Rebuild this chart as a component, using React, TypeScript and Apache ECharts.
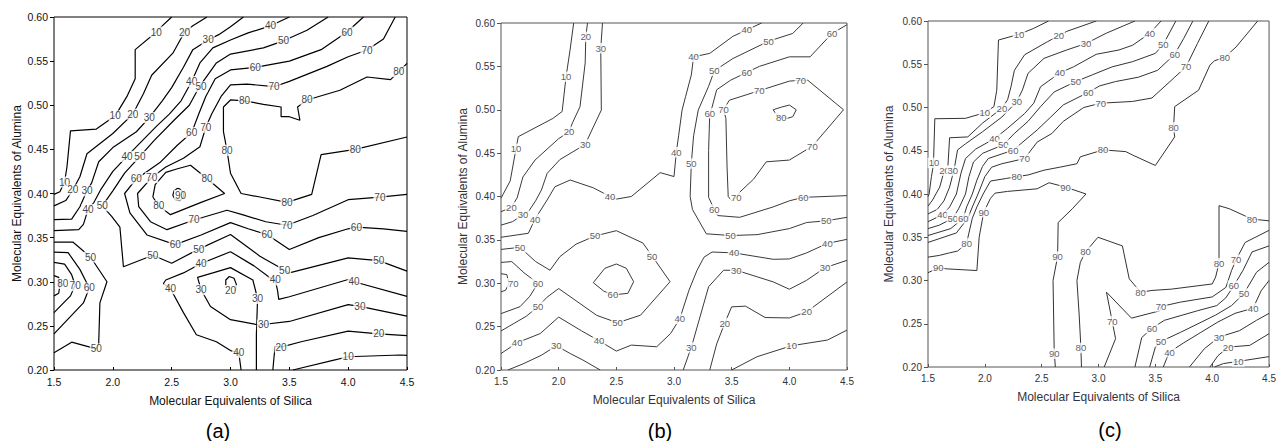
import React, { useEffect, useRef } from "react";
import * as echarts from "echarts";

type Pt = number[];

// Axis ranges / tick spacing (shared by all three panels)
const xRange = [1.5, 4.5];
const xStep = 0.5;
const yRange = [0.2, 0.6];
const yStep = 0.05;
const xTitle = "Molecular Equivalents of Silica";
const yTitle = "Molecular Equivalents of Alumina";
const panelNames = ["(a)", "(b)", "(c)"];

// ---------------- Panel (a) contour lines [silica, alumina] ----------------
const a10: Pt[] = [[2.5,0.6],[2.42,0.59],[2.37,0.583],[2.19,0.563],[2.19,0.53],[2.12,0.51],[2.02,0.488],[1.86,0.473],[1.64,0.471],[1.61,0.43],[1.59,0.413],[1.55,0.402],[1.5,0.399]];
const a20: Pt[] = [[2.8,0.6],[2.68,0.59],[2.61,0.583],[2.51,0.559],[2.33,0.534],[2.26,0.513],[2.17,0.49],[2.0,0.468],[1.78,0.445],[1.72,0.419],[1.66,0.404],[1.6,0.392],[1.5,0.386]];
const a30: Pt[] = [[3.11,0.6],[3.0,0.589],[2.9,0.58],[2.81,0.574],[2.68,0.563],[2.6,0.543],[2.5,0.52],[2.42,0.505],[2.31,0.486],[2.2,0.47],[2.0,0.452],[1.88,0.436],[1.82,0.412],[1.78,0.403],[1.72,0.385],[1.65,0.371],[1.5,0.3705]];
const a40: Pt[] = [[3.5,0.6],[3.34,0.59],[3.15,0.582],[3.0,0.574],[2.85,0.565],[2.74,0.548],[2.67,0.527],[2.58,0.505],[2.48,0.49],[2.37,0.476],[2.23,0.457],[2.12,0.442],[2.0,0.425],[1.9,0.405],[1.84,0.39],[1.79,0.382],[1.75,0.365],[1.71,0.359],[1.5,0.358]];
const a50: Pt[] = [[3.83,0.6],[3.65,0.585],[3.45,0.573],[3.28,0.565],[3.0,0.558],[2.88,0.548],[2.8,0.533],[2.74,0.522],[2.65,0.5],[2.52,0.483],[2.35,0.46],[2.23,0.442],[2.1,0.423],[2.0,0.403],[1.91,0.386],[1.99,0.374],[2.06,0.362],[2.09,0.317],[2.34,0.33],[2.5,0.321],[2.73,0.337],[3.0,0.3535],[3.25,0.329],[3.46,0.313],[3.5,0.31],[4.0,0.327],[4.26,0.324],[4.5,0.312]];
const a60: Pt[] = [[4.13,0.6],[3.99,0.583],[3.77,0.563],[3.5,0.55],[3.21,0.543],[3.0,0.54],[2.87,0.53],[2.79,0.51],[2.73,0.49],[2.67,0.469],[2.55,0.455],[2.4,0.435],[2.2,0.4165],[2.1,0.4],[2.145,0.378],[2.29,0.353],[2.53,0.342],[2.75,0.353],[3.0,0.367],[3.15,0.36],[3.31,0.3535],[3.5,0.3365],[3.75,0.35],[4.0,0.36],[4.07,0.362],[4.3,0.36],[4.5,0.357]];
const a70: Pt[] = [[4.4,0.6],[4.3,0.575],[4.16,0.5626],[4.0,0.555],[3.82,0.544],[3.5,0.527],[3.37,0.521],[3.14,0.524],[3.0,0.523],[2.92,0.51],[2.84,0.49],[2.79,0.475],[2.74,0.453],[2.6,0.44],[2.45,0.43],[2.33,0.418],[2.21,0.4],[2.22,0.385],[2.32,0.368],[2.46,0.359],[2.69,0.37],[2.97,0.381],[3.1,0.376],[3.3,0.368],[3.48,0.364],[3.7,0.375],[4.0,0.393],[4.27,0.396],[4.5,0.399]];
const a80: Pt[] = [[4.5,0.5475],[4.43,0.538],[4.36,0.529],[4.16,0.532],[3.93,0.517],[3.65,0.506],[3.57,0.498],[3.59,0.483],[3.5,0.487],[3.43,0.487],[3.43,0.498],[3.28,0.501],[3.12,0.505],[3.0,0.506],[2.94,0.498],[2.94,0.47],[2.97,0.449],[3.0,0.423],[3.09,0.4],[3.25,0.396],[3.48,0.39],[3.69,0.399],[3.77,0.444],[4.06,0.45],[4.5,0.464]];
const a80Loop: Pt[] = [[2.34,0.396],[2.36,0.41],[2.45,0.424],[2.55,0.428],[2.66,0.432],[2.8,0.417],[2.95,0.4],[2.75,0.39],[2.49,0.376],[2.39,0.386],[2.34,0.396]];
const a90Loop: Pt[] = [[2.55,0.406],[2.52,0.403],[2.51,0.398],[2.53,0.393],[2.57,0.392],[2.6,0.396],[2.6,0.401],[2.57,0.405],[2.55,0.406]];
const a40Low: Pt[] = [[4.5,0.2835],[4.05,0.3],[4.0,0.3025],[3.5,0.283],[3.41,0.28],[3.4,0.29],[3.38,0.302],[3.33,0.305],[3.2,0.318],[3.0,0.334],[2.75,0.3207],[2.6,0.31],[2.45,0.302],[2.43,0.298],[2.49,0.292],[2.6,0.265],[2.71,0.24],[2.88,0.232],[3.0,0.222],[3.07,0.22],[3.09,0.2]];
const a30Low: Pt[] = [[3.22,0.2],[3.22,0.24],[3.23,0.281],[3.19,0.302],[3.0,0.316],[2.85,0.31],[2.72,0.305],[2.75,0.291],[2.83,0.272],[3.0,0.257],[3.24,0.251],[3.5,0.255],[4.0,0.274],[4.1,0.272],[4.5,0.261]];
const a20Loop: Pt[] = [[2.96,0.296],[2.96,0.302],[2.99,0.306],[3.03,0.304],[3.05,0.297],[3.04,0.29]];
const a20Low: Pt[] = [[3.36,0.2],[3.37,0.215],[3.38,0.227],[3.43,0.226],[3.6,0.232],[4.0,0.244],[4.26,0.241],[4.5,0.239]];
const a10Low: Pt[] = [[3.53,0.2],[3.87,0.211],[4.0,0.215],[4.44,0.217],[4.5,0.2165]];
const a80Left: Pt[] = [[1.5,0.307],[1.54,0.305],[1.55,0.296],[1.54,0.287],[1.5,0.284]];
const a70Left: Pt[] = [[1.5,0.322],[1.59,0.32],[1.65,0.308],[1.68,0.296],[1.64,0.284],[1.5,0.265]];
const a60Left: Pt[] = [[1.5,0.3335],[1.62,0.333],[1.72,0.314],[1.8,0.293],[1.75,0.276],[1.5,0.241]];
const a50Left: Pt[] = [[1.5,0.345],[1.66,0.345],[1.81,0.328],[1.95,0.3],[1.89,0.276],[1.88,0.23],[1.86,0.224],[1.65,0.2315],[1.5,0.2195]];

// labels [silica, alumina, level]
const labelsA: Pt[] = [
  [2.37,0.583,10],[2.02,0.488,10],[1.59,0.413,10],
  [2.61,0.583,20],[2.17,0.49,20],[1.66,0.404,20],
  [2.81,0.574,30],[2.31,0.486,30],[1.78,0.403,30],
  [3.34,0.59,40],[2.67,0.527,40],[2.12,0.442,40],[1.79,0.382,40],
  [3.45,0.573,50],[2.75,0.521,50],[2.23,0.442,50],[1.91,0.386,50],[2.34,0.33,50],[2.73,0.337,50],[3.46,0.313,50],[4.26,0.324,50],
  [3.99,0.583,60],[3.21,0.543,60],[2.67,0.469,60],[2.2,0.4165,60],[2.53,0.342,60],[3.31,0.3535,60],[4.07,0.362,60],
  [4.16,0.5626,70],[3.37,0.521,70],[2.79,0.475,70],[2.33,0.418,70],[2.69,0.37,70],[3.48,0.364,70],[4.27,0.396,70],
  [4.43,0.538,80],[3.65,0.506,80],[3.12,0.505,80],[2.97,0.449,80],[3.48,0.39,80],[4.06,0.45,80],[2.8,0.417,80],[2.39,0.386,80],
  [2.575,0.398,90],
  [4.05,0.3,40],[3.38,0.302,40],[2.75,0.3207,40],[2.49,0.292,40],[3.07,0.22,40],
  [3.23,0.281,30],[2.75,0.291,30],[3.28,0.251,30],[4.1,0.272,30],
  [3.0,0.29,20],[3.43,0.226,20],[4.26,0.241,20],
  [4.0,0.215,10],
  [1.574,0.298,80],[1.68,0.2955,70],[1.8,0.293,60],[1.81,0.328,50],[1.86,0.224,50],
];

// ---------------- Panel (b) ----------------
const b10: Pt[] = [[2.13,0.6],[2.1,0.57],[2.064,0.538],[2.03,0.498],[1.95,0.49],[1.65,0.469],[1.63,0.455],[1.58,0.418],[1.52,0.403],[1.5,0.398]];
const b20: Pt[] = [[2.25,0.6],[2.235,0.584],[2.23,0.554],[2.185,0.5035],[2.12,0.485],[2.09,0.4745],[2.0,0.4667],[1.795,0.442],[1.69,0.4225],[1.64,0.3985],[1.59,0.3875],[1.5,0.3825]];
const b30: Pt[] = [[2.38,0.6],[2.365,0.571],[2.37,0.4996],[2.3,0.48],[2.23,0.46],[2.01,0.4425],[1.9,0.4266],[1.85,0.4073],[1.8,0.395],[1.74,0.383],[1.69,0.379],[1.6,0.371],[1.5,0.367]];
const b40: Pt[] = [[3.76,0.6],[3.63,0.592],[3.51,0.5846],[3.31,0.565],[3.17,0.561],[3.15,0.54],[3.1,0.515],[3.07,0.4996],[3.04,0.47],[3.02,0.451],[3.0,0.423],[2.88,0.4275],[2.63,0.4],[2.5,0.397],[2.445,0.4],[2.3,0.41],[2.1,0.419],[1.968,0.4113],[1.9,0.396],[1.795,0.374],[1.737,0.3576],[1.5,0.353]];
const b50: Pt[] = [[1.5,0.339],[1.665,0.3414],[1.8,0.325],[1.925,0.315],[2.01,0.3306],[2.15,0.345],[2.315,0.3545],[2.5,0.3606],[2.73,0.3464],[2.81,0.3314],[2.966,0.3018],[2.71,0.2632],[2.51,0.2544],[2.33,0.263],[2.0,0.2939],[1.9,0.284],[1.82,0.273],[1.72,0.262],[1.5,0.245]];
const b60Left: Pt[] = [[1.5,0.324],[1.593,0.325],[1.7,0.312],[1.82,0.3],[1.75,0.285],[1.665,0.273],[1.5,0.265]];
const b70Left: Pt[] = [[1.5,0.311],[1.55,0.31],[1.57,0.3],[1.54,0.292],[1.5,0.29]];
const b60Loop: Pt[] = [[2.3,0.3007],[2.4,0.3172],[2.5,0.3222],[2.587,0.3172],[2.65,0.3018],[2.6,0.2884],[2.47,0.2865],[2.39,0.291],[2.3,0.3007]];
const b40Low: Pt[] = [[1.5,0.219],[1.64,0.2314],[1.84,0.242],[2.0,0.261],[2.2,0.245],[2.35,0.2337],[2.5,0.2218],[2.63,0.2287],[2.85,0.2268],[2.97,0.242],[3.05,0.259],[3.13,0.292],[3.2,0.315],[3.26,0.33],[3.33,0.336],[3.52,0.335],[3.86,0.3276],[4.0,0.328],[4.15,0.335],[4.33,0.346],[4.5,0.3506]];
const b50Right: Pt[] = [[4.12,0.6],[4.03,0.588],[3.82,0.579],[3.51,0.559],[3.35,0.545],[3.3,0.527],[3.21,0.4996],[3.17,0.47],[3.15,0.438],[3.14,0.4],[3.16,0.385],[3.28,0.357],[3.49,0.355],[3.72,0.356],[4.0,0.363],[4.15,0.37],[4.32,0.372],[4.5,0.376]];
const b60Right: Pt[] = [[4.5,0.598],[4.37,0.588],[4.18,0.561],[4.0,0.561],[3.74,0.55],[3.63,0.543],[3.49,0.534],[3.37,0.523],[3.33,0.503],[3.31,0.496],[3.3,0.453],[3.3,0.399],[3.35,0.385],[3.38,0.378],[3.57,0.376],[3.86,0.388],[4.0,0.395],[4.12,0.399],[4.5,0.401]];
const b70Loop: Pt[] = [[3.54,0.399],[3.5,0.395],[3.47,0.4],[3.46,0.434],[3.45,0.49],[3.43,0.5],[3.48,0.511],[3.74,0.522],[4.0,0.533],[4.1,0.534],[4.16,0.534],[4.47,0.5],[4.2,0.458],[4.0,0.442],[3.8,0.44],[3.69,0.42],[3.57,0.405],[3.54,0.399]];
const b80Loop: Pt[] = [[3.86,0.5],[3.93,0.503],[4.0,0.5054],[4.06,0.5],[4.03,0.492],[3.98,0.49],[3.9,0.492],[3.86,0.5]];
const b30Low: Pt[] = [[1.56,0.2],[1.69,0.207],[1.85,0.217],[1.98,0.228],[2.1,0.219],[2.21,0.2115],[2.36,0.2]];
const b30Right: Pt[] = [[3.08,0.2],[3.12,0.215],[3.15,0.226],[3.21,0.254],[3.3,0.296],[3.43,0.315],[3.54,0.315],[3.86,0.3016],[4.0,0.2931],[4.15,0.3034],[4.31,0.318],[4.5,0.3264]];
const b20Right: Pt[] = [[3.31,0.2],[3.37,0.23],[3.44,0.254],[3.5,0.2728],[3.62,0.2736],[3.79,0.2605],[4.0,0.26],[4.15,0.267],[4.5,0.3015]];
const b10Right: Pt[] = [[3.5,0.2],[3.72,0.2153],[4.02,0.228],[4.33,0.2345],[4.5,0.246]];

const labelsB: Pt[] = [
  [2.064,0.538,10],[1.63,0.455,10],
  [2.235,0.584,20],[2.09,0.4745,20],[1.59,0.3875,20],
  [2.365,0.571,30],[2.23,0.46,30],[1.69,0.379,30],
  [1.795,0.374,40],[2.445,0.4,40],[3.02,0.451,40],[3.17,0.561,40],[3.63,0.592,40],
  [1.665,0.3414,50],[2.315,0.3545,50],[2.81,0.3314,50],[2.51,0.2544,50],[1.82,0.273,50],
  [1.82,0.3,60],[2.47,0.2865,60],
  [1.607,0.3,70],
  [1.64,0.2314,40],[2.35,0.2337,40],[3.05,0.259,40],[3.52,0.335,40],[4.33,0.346,40],
  [1.98,0.228,30],[3.15,0.226,30],[3.54,0.315,30],[4.31,0.318,30],
  [3.44,0.254,20],[4.15,0.267,20],
  [4.02,0.228,10],
  [3.82,0.579,50],[3.35,0.545,50],[3.15,0.438,50],[3.49,0.355,50],[4.32,0.372,50],
  [4.37,0.588,60],[3.63,0.543,60],[3.31,0.496,60],[3.35,0.385,60],[4.12,0.399,60],
  [3.74,0.522,70],[4.1,0.534,70],[3.43,0.5,70],[4.2,0.458,70],[3.54,0.399,70],
  [3.93,0.491,80],
];

// ---------------- Panel (c) ----------------
const c10: Pt[] = [[2.56,0.6],[2.43,0.5915],[2.3,0.5846],[2.12,0.578],[2.105,0.52],[2.08,0.501],[2.0,0.494],[1.83,0.4875],[1.56,0.487],[1.55,0.443],[1.55,0.4355],[1.53,0.42],[1.51,0.4],[1.5,0.397]];
const c20: Pt[] = [[2.98,0.6],[2.72,0.588],[2.65,0.583],[2.55,0.576],[2.35,0.561],[2.26,0.543],[2.23,0.524],[2.2,0.509],[2.15,0.499],[1.98,0.482],[1.85,0.466],[1.69,0.465],[1.675,0.432],[1.645,0.428],[1.603,0.408],[1.54,0.393],[1.5,0.386]];
const c30: Pt[] = [[3.32,0.6],[3.07,0.586],[2.89,0.574],[2.72,0.5665],[2.52,0.5568],[2.38,0.5395],[2.33,0.52],[2.28,0.5067],[2.15,0.489],[1.98,0.472],[1.83,0.458],[1.76,0.451],[1.73,0.4285],[1.69,0.408],[1.64,0.392],[1.58,0.382],[1.5,0.377]];
const c40: Pt[] = [[3.55,0.6],[3.45,0.5857],[3.3,0.572],[3.18,0.5665],[2.98,0.5615],[2.78,0.547],[2.66,0.54],[2.49,0.524],[2.43,0.505],[2.35,0.493],[2.2,0.476],[2.085,0.464],[1.92,0.452],[1.83,0.441],[1.79,0.424],[1.75,0.4],[1.69,0.385],[1.627,0.376],[1.5,0.368]];
const c50: Pt[] = [[3.68,0.6],[3.57,0.573],[3.5,0.5626],[3.3,0.553],[3.12,0.547],[2.95,0.538],[2.8,0.53],[2.61,0.518],[2.49,0.501],[2.38,0.484],[2.26,0.47],[2.163,0.457],[1.98,0.447],[1.9,0.437],[1.86,0.42],[1.83,0.4],[1.77,0.383],[1.718,0.372],[1.6,0.364],[1.5,0.36]];
const c60: Pt[] = [[3.83,0.6],[3.75,0.58],[3.67,0.5615],[3.52,0.543],[3.35,0.535],[3.15,0.53],[3.01,0.525],[2.91,0.5175],[2.69,0.503],[2.58,0.489],[2.46,0.474],[2.249,0.4507],[2.03,0.441],[1.98,0.432],[1.93,0.416],[1.89,0.4],[1.84,0.385],[1.81,0.372],[1.7,0.36],[1.5,0.352]];
const c70: Pt[] = [[3.97,0.6],[3.87,0.574],[3.77,0.547],[3.67,0.535],[3.47,0.511],[3.3,0.507],[3.02,0.505],[2.87,0.5],[2.69,0.484],[2.59,0.47],[2.46,0.46],[2.35,0.441],[2.15,0.435],[2.06,0.431],[2.0,0.42],[1.94,0.4],[1.89,0.385],[1.85,0.372],[1.75,0.355],[1.5,0.344]];
const c80: Pt[] = [[4.4,0.6],[4.21,0.57],[4.11,0.558],[4.02,0.554],[3.98,0.549],[3.88,0.52],[3.67,0.501],[3.66,0.477],[3.67,0.466],[3.5,0.433],[3.3,0.445],[3.24,0.449],[3.04,0.451],[2.84,0.443],[2.81,0.435],[2.66,0.431],[2.52,0.4275],[2.38,0.422],[2.28,0.42],[2.19,0.418],[2.05,0.415],[1.985,0.4],[1.93,0.385],[1.89,0.372],[1.86,0.355],[1.84,0.343],[1.76,0.334],[1.69,0.332],[1.6,0.329],[1.5,0.327]];
const c90: Pt[] = [[1.5,0.309],[1.59,0.3146],[1.66,0.3135],[1.93,0.3115],[1.95,0.35],[1.99,0.379],[2.05,0.395],[2.09,0.401],[2.2,0.403],[2.46,0.406],[2.565,0.413],[2.71,0.408],[2.89,0.4],[2.77,0.383],[2.645,0.367],[2.64,0.3277],[2.6,0.3],[2.61,0.219],[2.62,0.2]];
const c80Low: Pt[] = [[2.85,0.2],[2.845,0.222],[2.83,0.26],[2.81,0.3],[2.84,0.321],[2.885,0.333],[2.995,0.35],[3.21,0.34],[3.27,0.302],[3.37,0.2865],[3.47,0.2885],[3.64,0.29],[4.0,0.296],[4.03,0.304],[4.06,0.32],[4.06,0.3865],[4.15,0.383],[4.35,0.371],[4.5,0.369]];
const c70Low: Pt[] = [[3.05,0.2],[3.15,0.2327],[3.12,0.253],[3.07,0.2865],[3.29,0.2565],[3.54,0.265],[3.55,0.27],[3.72,0.275],[4.0,0.281],[4.12,0.292],[4.17,0.3115],[4.21,0.324],[4.29,0.344],[4.5,0.358]];
const c60Low: Pt[] = [[3.32,0.2],[3.38,0.234],[3.47,0.245],[3.58,0.254],[3.87,0.265],[4.04,0.271],[4.12,0.28],[4.19,0.294],[4.27,0.3115],[4.35,0.333],[4.5,0.34]];
const c50Low: Pt[] = [[3.45,0.2],[3.5,0.223],[3.55,0.2296],[3.72,0.24],[4.03,0.26],[4.17,0.271],[4.28,0.285],[4.39,0.3096],[4.5,0.321]];
const c40Low: Pt[] = [[3.57,0.2],[3.6,0.21],[3.625,0.2173],[3.75,0.228],[3.9,0.24],[4.05,0.252],[4.2,0.262],[4.36,0.268],[4.43,0.288],[4.5,0.3]];
const c30Low: Pt[] = [[3.8,0.2],[3.93,0.221],[4.06,0.2346],[4.24,0.242],[4.39,0.254],[4.5,0.262]];
const c20Low: Pt[] = [[3.98,0.2],[4.05,0.213],[4.14,0.223],[4.33,0.225],[4.5,0.2385]];
const c10Low: Pt[] = [[4.02,0.2],[4.1,0.204],[4.23,0.2065],[4.5,0.212]];

const labelsC: Pt[] = [
  [2.3,0.5846,10],[2.0,0.494,10],[1.552,0.436,10],
  [2.65,0.583,20],[2.15,0.499,20],[1.646,0.427,20],
  [2.89,0.574,30],[2.28,0.5067,30],[1.718,0.4267,30],
  [3.45,0.5857,40],[2.66,0.54,40],[2.085,0.464,40],[1.627,0.376,40],
  [3.57,0.573,50],[2.8,0.53,50],[2.163,0.457,50],[1.718,0.372,50],
  [3.67,0.5615,60],[2.91,0.5175,60],[2.249,0.4507,60],[1.81,0.372,60],
  [3.77,0.547,70],[3.02,0.505,70],[2.35,0.441,70],
  [4.11,0.558,80],[3.66,0.477,80],[3.04,0.451,80],[2.28,0.42,80],[1.84,0.343,80],
  [2.71,0.408,90],[1.99,0.379,90],[1.59,0.3146,90],[2.64,0.3277,90],[2.61,0.2154,90],
  [2.885,0.333,80],[2.845,0.222,80],[3.37,0.2865,80],[4.06,0.32,80],[4.35,0.371,80],
  [3.12,0.253,70],[3.55,0.27,70],[4.21,0.324,70],
  [3.47,0.245,60],[4.19,0.294,60],
  [3.55,0.2296,50],[4.28,0.285,50],
  [3.625,0.2173,40],[4.36,0.268,40],
  [4.06,0.2346,30],
  [4.14,0.223,20],
  [4.23,0.2065,10],
];

const linesA = [a10,a20,a30,a40,a50,a60,a70,a80,a80Loop,a90Loop,a40Low,a30Low,a20Loop,a20Low,a10Low,a80Left,a70Left,a60Left,a50Left];
const linesB = [b10,b20,b30,b40,b50,b60Left,b70Left,b60Loop,b40Low,b50Right,b60Right,b70Loop,b80Loop,b30Low,b30Right,b20Right,b10Right];
const linesC = [c10,c20,c30,c40,c50,c60,c70,c80,c90,c80Low,c70Low,c60Low,c50Low,c40Low,c30Low,c20Low,c10Low];

const FONT = '"Liberation Sans", Arial, Helvetica, sans-serif';

interface PanelStyle {
  grid: { left: number; top: number; width: number; height: number };
  line: string;
  lineWidth: number;
  text: string;
  border: string;
  tickFont: number;
  labelFont: number;
  xGap: number;
  yGap: number;
  title: { x: number; y: number };
}

const styles: PanelStyle[] = [
  { grid: { left: 54, top: 17, width: 353, height: 353 }, line: "#000", lineWidth: 1.2, text: "#111", border: "#000", tickFont: 10.5, labelFont: 10, xGap: 25, yGap: 31, title: { x: 218, y: 431 } },
  { grid: { left: 501, top: 23, width: 346, height: 347 }, line: "#3a3a3a", lineWidth: 1, text: "#333", border: "#555", tickFont: 10, labelFont: 9.5, xGap: 24, yGap: 32, title: { x: 660, y: 431 } },
  { grid: { left: 928, top: 21, width: 348, height: 346 }, line: "#333", lineWidth: 1, text: "#333340", border: "#555", tickFont: 10, labelFont: 9.5, xGap: 24, yGap: 33, title: { x: 1110, y: 430 } },
];

function buildSeries(gi: number, lines: Pt[][], labels: Pt[], st: PanelStyle): any[] {
  const s: any[] = lines.map((pts) => ({
    type: "line",
    xAxisIndex: gi,
    yAxisIndex: gi,
    data: pts,
    showSymbol: false,
    symbol: "none",
    silent: true,
    smooth: false,
    clip: true,
    z: 2,
    lineStyle: { color: st.line, width: st.lineWidth },
    itemStyle: { color: st.line },
  }));
  s.push({
    type: "scatter",
    xAxisIndex: gi,
    yAxisIndex: gi,
    data: labels,
    symbolSize: 1,
    silent: true,
    z: 5,
    itemStyle: { color: "rgba(255,255,255,0)" },
    label: {
      show: true,
      position: "inside",
      formatter: (p: any) => String(p.value[2]),
      color: st.text,
      textBorderWidth: 0,
      textBorderColor: "transparent",
      fontSize: st.labelFont,
      fontFamily: FONT,
      backgroundColor: "#fff",
      padding: [0, 1],
      lineHeight: st.labelFont + 1,
    },
  });
  return s;
}

export default function App() {
  const ref = useRef<HTMLDivElement>(null);
  useEffect(() => {
    if (!ref.current) return;
    const chart = echarts.init(ref.current, undefined, { renderer: "svg" });
    const lineSets = [linesA, linesB, linesC];
    const labelSets = [labelsA, labelsB, labelsC];
    const series: any[] = [];
    styles.forEach((st, i) => series.push(...buildSeries(i, lineSets[i], labelSets[i], st)));
    chart.setOption({
      animation: false,
      textStyle: { fontFamily: FONT },
      grid: styles.map((st) => ({
        ...st.grid,
        show: true,
        borderColor: st.border,
        borderWidth: 1,
        backgroundColor: "transparent",
        containLabel: false,
      })),
      xAxis: styles.map((st, i) => ({
        type: "value",
        gridIndex: i,
        min: xRange[0],
        max: xRange[1],
        interval: xStep,
        name: xTitle,
        nameLocation: "middle",
        nameGap: st.xGap,
        nameTextStyle: { color: st.text, fontSize: 12, fontFamily: FONT },
        axisLine: { show: false },
        axisTick: { show: true, inside: true, length: 3, lineStyle: { color: st.border } },
        axisLabel: { color: st.text, fontSize: st.tickFont, margin: 6, fontFamily: FONT, formatter: (v: number) => v.toFixed(1), showMaxLabel: true, showMinLabel: true },
        splitLine: { show: false },
      })),
      yAxis: styles.map((st, i) => ({
        type: "value",
        gridIndex: i,
        min: yRange[0],
        max: yRange[1],
        interval: yStep,
        name: yTitle,
        nameLocation: "middle",
        nameGap: st.yGap,
        nameTextStyle: { color: st.text, fontSize: 12, fontFamily: FONT },
        axisLine: { show: false },
        axisTick: { show: true, inside: false, length: 4, lineStyle: { color: st.border } },
        axisLabel: { color: st.text, fontSize: st.tickFont, margin: 6, fontFamily: FONT, formatter: (v: number) => v.toFixed(2) },
        splitLine: { show: false },
      })),
      graphic: styles.map((st, i) => ({
        type: "text",
        x: st.title.x,
        y: st.title.y,
        silent: true,
        style: { text: panelNames[i], fontSize: 20, fontFamily: FONT, fill: "#000", align: "center", verticalAlign: "middle" },
      })),
      series,
    });
    return () => chart.dispose();
  }, []);
  return <div ref={ref} style={{ position: "absolute", left: 0, top: 0, width: 1279, height: 441, background: "#fff" }} />;
}
